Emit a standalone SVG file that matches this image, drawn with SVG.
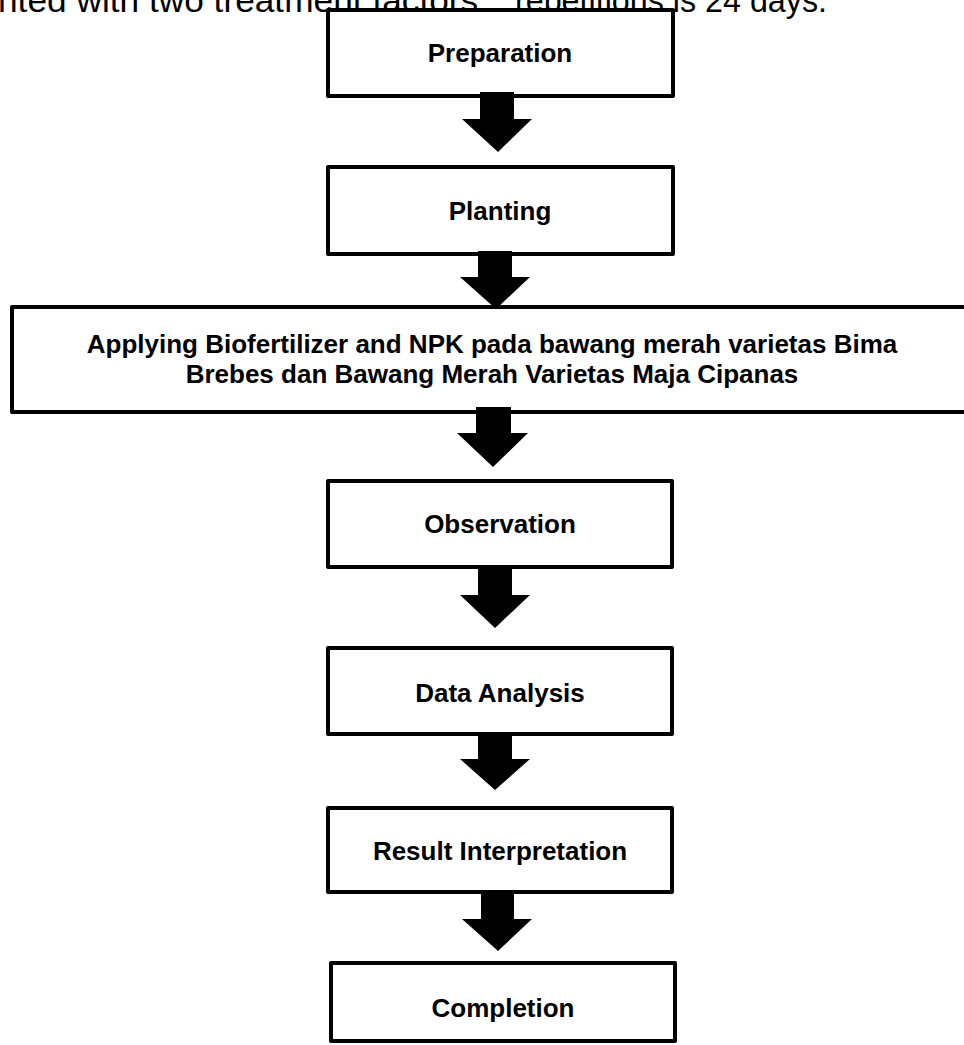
<svg xmlns="http://www.w3.org/2000/svg" width="964" height="1045" viewBox="0 0 964 1045">
<style>
.box{fill:#fff;stroke:#000;stroke-width:4;stroke-linejoin:round}
.lbl{font-family:"Liberation Sans",Arial,sans-serif;font-weight:bold;font-size:26px;fill:#000;text-anchor:middle}
.top{font-family:"Liberation Sans",Arial,sans-serif;font-size:33px;fill:#000}
.arr{fill:#000;stroke:none}
</style>
<rect width="964" height="1045" fill="#fff"/>
<g id="header">
<text class="top" x="-2" y="12" textLength="490" lengthAdjust="spacingAndGlyphs">nted with two treatment factors.</text>
<text class="top" x="515" y="12" textLength="312" lengthAdjust="spacingAndGlyphs">repetitions is 24 days.</text>
</g>
<g id="n1"><rect class="box" x="328" y="10" width="345" height="86"/><text class="lbl" x="500" y="62">Preparation</text></g>
<g id="n2"><rect class="box" x="328" y="167" width="345" height="87"/><text class="lbl" x="500" y="220">Planting</text></g>
<g id="n3"><rect class="box" x="12" y="307" width="960" height="105"/>
<text class="lbl" x="492" y="353">Applying Biofertilizer and NPK pada bawang merah varietas Bima</text>
<text class="lbl" x="492" y="383">Brebes dan Bawang Merah Varietas Maja Cipanas</text></g>
<g id="n4"><rect class="box" x="328" y="481" width="344" height="86"/><text class="lbl" x="500" y="533">Observation</text></g>
<g id="n5"><rect class="box" x="328" y="648" width="344" height="86"/><text class="lbl" x="500" y="702">Data Analysis</text></g>
<g id="n6"><rect class="box" x="328" y="808" width="344" height="84"/><text class="lbl" x="500" y="860">Result Interpretation</text></g>
<g id="n7"><rect class="box" x="331" y="963" width="344" height="78"/><text class="lbl" x="503" y="1017">Completion</text></g>
<g id="connectors">
<polygon class="arr" points="480,92 514,92 514,119 532,119 498,152 462,119 480,119"/>
<polygon class="arr" points="478,251 512,251 512,277 530,277 496,309 460,277 478,277"/>
<polygon class="arr" points="476,407 511,407 511,433 528,433 493,467 457,433 476,433"/>
<polygon class="arr" points="478,566 512,566 512,595 530,595 495,628 460,595 478,595"/>
<polygon class="arr" points="478,733 512,733 512,759 530,759 495,790 460,759 478,759"/>
<polygon class="arr" points="481,891 514,891 514,919 532,919 498,951 462,919 481,919"/>
</g>
</svg>
